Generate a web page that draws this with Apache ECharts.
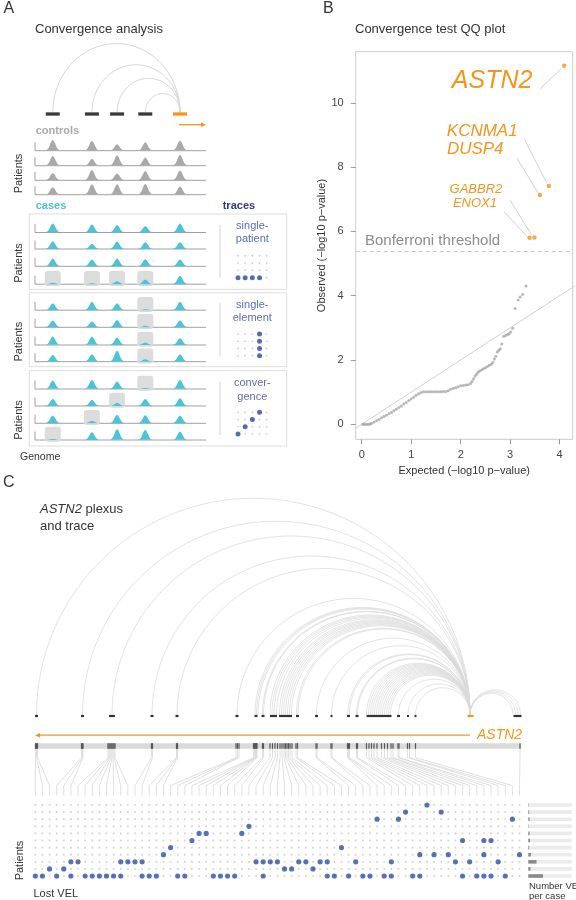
<!DOCTYPE html>
<html>
<head>
<meta charset="utf-8">
<title>Convergence analysis</title>
<script src="https://cdn.jsdelivr.net/npm/echarts@6.0.0/dist/echarts.min.js"></script>
<style>
html,body{margin:0;padding:0;background:#ffffff;}
#chart{width:576px;height:900px;}
</style>
</head>
<body>
<div id="chart"></div>
<script>
// ===================== DATA =====================
// Panel A - schematic (genome position 0-100, peak signal heights)
const elementsA = [10.4, 33.3, 48.0, 64.5, 84.8];
const promoterA = 4;
const controlPeaks = [
  [10.7, 9.7, 6.3, 8.3, 10.0],
  [9.7, 6.7, 10.3, 8.0, 10.7],
  [7.0, 10.3, 6.7, 9.3, 9.7],
  [7.3, 10.3, 10.3, 10.7, 8.0]
];
const casePeaks = [
  [9.0, 8.0, 7.3, 6.3, 9.0],
  [7.7, 5.0, 7.3, 6.7, 6.7],
  [7.7, 6.7, 7.7, 7.0, 6.7],
  [1.5, 1.0, 3.0, 4.5, 8.3],
  [6.7, 8.3, 6.7, 1.0, 8.3],
  [6.7, 5.7, 7.3, 1.5, 6.7],
  [8.3, 8.3, 7.3, 2.5, 6.7],
  [6.7, 7.3, 11.0, 2.5, 7.3],
  [8.3, 9.0, 7.3, 1.0, 9.0],
  [7.0, 6.0, 3.0, 7.0, 7.7],
  [7.7, 2.5, 8.3, 8.0, 7.7],
  [1.0, 7.7, 10.7, 10.0, 8.3]
];
const traceLabels = ['single-\npatient', 'single-\nelement', 'conver-\ngence'];
const traceSinglePatient = [[0,3],[1,3],[2,3],[3,3]];
const traceSingleElement = [[3,0],[3,1],[3,2],[3,3]];
const traceConvergence   = [[3,0],[2,1],[1,2],[0,3]];

// Panel B - convergence test QQ plot
const qqExpected = [0.02,0.05,0.08,0.11,0.14,0.17,0.20,0.25,0.30,0.35,0.40,0.45,0.50,0.55,0.60,0.65,0.70,0.75,0.80,0.85,0.90,0.95,1.00,1.05,1.10,1.15,1.20,1.25,
  1.30,1.35,1.40,1.45,1.50,1.55,1.60,1.65,1.70,1.75,1.80,1.85,1.90,1.95,2.00,2.05,2.10,2.15,2.20,
  2.23,2.26,2.29,2.32,2.35,2.38,2.42,2.46,2.50,2.54,2.58,2.62,2.65,
  2.68,2.71,2.74,2.77,2.80,2.83,2.87,2.91,2.95,2.98,3.01,3.05,3.10,3.16,3.20,3.25,3.32];
const qqObserved = [0,0,0,0,0,0.01,0.03,0.07,0.11,0.15,0.20,0.24,0.28,0.33,0.37,0.42,0.47,0.52,0.57,0.63,0.68,0.74,0.79,0.84,0.90,0.95,0.99,1.01,
  1.01,1.01,1.01,1.01,1.01,1.01,1.01,1.02,1.02,1.04,1.09,1.12,1.14,1.17,1.20,1.21,1.22,1.23,1.27,
  1.33,1.42,1.50,1.56,1.62,1.66,1.69,1.73,1.76,1.80,1.84,1.87,1.92,
  2.03,2.12,2.25,2.30,2.35,2.50,2.74,2.76,2.79,2.82,2.87,2.99,3.60,3.87,3.96,4.04,4.30];
const topGenes    = ['ASTN2', 'KCNMA1', 'DUSP4', 'GABBR2', 'ENOX1'];
const topExpected = [4.09, 3.78, 3.60, 3.49, 3.39];
const topObserved = [11.15, 7.41, 7.13, 5.81, 5.80];
const bonferroni = 5.37;
const qqTicksX = [0, 1, 2, 3, 4];
const qqTicksY = [0, 2, 4, 6, 8, 10];

// Panel C - ASTN2 plexus and trace (genomic positions in kb)
const promoterC = 870;
const promoterDash = [865, 877];
const plexusDashes = [[0,6],[92,98],[148,160],[231,237],[281,287],[401,407],[439,445],[453,459],[470,484],[488,514],
  [522,528],[560,566],[591,595],[624,630],[641,647],[663,713],[724,730],[744,748],[759,763],[957,973]];
const plexusArcs = [3,95,154,234,284, 404,440,443,446,455,457,470,474,478,483,489,493,497,501,505,509,513,523,526,563,593,
  626,629,643,645,663,667,671,675,679,683,687,691,695,699,703,707,711,727,746,761, 956,961,966,971];
const velPos = [1,3,5, 93,95,96, 146,148,150,152,154,156,158,160, 233,235, 283,284,285, 402,405,408, 437,439,441,442,443,444,
  455,457, 470,475,480,485, 490,494,498,501,504,507,510,514, 522,525, 562,564, 592,594, 625,627,629, 643,645,
  663,668,673,678,684,693,699,705,712,716, 726,728, 745,749, 761, 970];
// patients (0 = bottom row) that lost each VEL
const velPatients = [[0],[0],[1],[0],[1],[2,0],[2],[0],[0],[0],[0],[0],[2,0],[2],[2],[2,0],[0],[0],[3],[4],[0],[0],[5],[6],[6],
  [0],[0],[0],[0],[6],[7],[2],[2,0],[2],[2],[1],[1],[2],[2],[1],[2],[2,0],[0],[4],[0],[2],[0],[0],[8],[0],[2,0],[8],[9],[0],
  [3,0],[10],[3],[9],[3],[2],[5,0],[2],[0],[5,3,0],[5,0],[2],[0],[8],[3]];
const patientsC = 11;
const velsPerCaseMax = 100;

// ===================== LAYOUT / STYLE =====================
const FONT = '"Liberation Sans", Arial, Helvetica, sans-serif';
const ORANGE = '#f7941d', CYAN = '#4dc3da', BLUE = '#3050a8', TRACE_BLUE = '#2b3990';
const A_ROW_BASE = [150.7,165.7,180.3,194.7, 232.5,249.0,266.3,284.2, 310.2,327.3,345.0,361.7, 389.0,406.0,423.3,440.0];
const A_DASH_Y = 114, A_ARC_Y = 112.3, A_ARROW_Y = 124.7;
const C_DASH_Y = 0, C_GENE_Y = 0.24, C_BAR_TOP = 0.34, C_BAR_BOT = 0.41, C_BEND1 = 0.52, C_BEND2 = 0.87, C_FAN_END = 0.995;
const QQ_LABELS = [
  {dx:-72,  dy:15,  align:'center', size:25, line:[-24, 23, -3, 3]},
  {dx:-102, dy:-55, align:'left',   size:17, line:[-24, -46, -2, -3]},
  {dx:-93,  dy:-46, align:'left',   size:17, line:[-23, -37, -2, -2.5]},
  {dx:-58.5,dy:-48, align:'center', size:13, line:[-24.5, -37.6, -2.8, -2.6]},
  {dx:-54.5,dy:-34, align:'center', size:13, line:[-25.5, -26, -2.2, -1.2]}
];

function arcPoints(x1, x2, y, ratio, n) {
  const cx = (x1 + x2) / 2, rx = Math.abs(x2 - x1) / 2, ry = rx * ratio, pts = [];
  for (let k = 0; k <= n; k++) {
    const t = Math.PI + Math.PI * k / n;
    pts.push([cx + rx * Math.cos(t), y + ry * Math.sin(t)]);
  }
  return pts;
}
function T(x, y, text, o) {
  o = o || {};
  const font = [o.style || '', o.weight || '', (o.size || 11) + 'px', FONT].join(' ').trim();
  const st = {text: text, font: font, fill: o.color || '#333',
    textAlign: o.align || 'left', align: o.align || 'left',
    textVerticalAlign: 'middle', verticalAlign: 'middle'};
  if (o.lh) st.lineHeight = o.lh;
  return {type:'text', x:x, y:y, rotation:o.rot || 0, silent:true, z:10, style:st};
}

const elemNames = elementsA.map((_, i) => 'E' + (i + 1));
const traceRows = ['P1','P2','P3','P4'];
const velNames = velPos.map((_, i) => 'VEL' + (i + 1));
const patientNames = Array.from({length: patientsC}, (_, i) => 'Patient ' + (i + 1));
const traces = [traceSinglePatient, traceSingleElement, traceConvergence];

// ===================== GRIDS & AXES =====================
const grid = [
  {left:35, top:0, width:171, height:470},
  {left:238, top:255.7, width:28.7, height:22},
  {left:238, top:334, width:28.7, height:21.7},
  {left:238, top:412.3, width:28.7, height:21.7},
  {left:355.7, top:51.7, width:217, height:387.6, show:true, borderColor:'#cccccc', borderWidth:1, backgroundColor:'transparent'},
  {left:35, top:716, width:487.5, height:80},
  {left:35.3, top:805, width:484.2, height:71},
  {left:528.3, top:801.45, width:43.4, height:78.1}
];
const xAxis = [
  {type:'value', gridIndex:0, min:0, max:100, show:false},
  {type:'category', gridIndex:1, data:elemNames, boundaryGap:false, show:false},
  {type:'category', gridIndex:2, data:elemNames, boundaryGap:false, show:false},
  {type:'category', gridIndex:3, data:elemNames, boundaryGap:false, show:false},
  {type:'value', gridIndex:4, min:-0.121, max:4.263,
    axisLine:{show:false, onZero:false}, splitLine:{show:false},
    axisTick:{show:true, customValues:qqTicksX, length:5, lineStyle:{color:'#9a9a9a'}},
    axisLabel:{customValues:qqTicksX, margin:10, color:'#444', fontSize:11, fontFamily:FONT},
    name:'Expected (\u2212log10 p\u2212value)', nameLocation:'middle', nameGap:26,
    nameTextStyle:{color:'#333', fontSize:11, fontFamily:FONT}},
  {type:'value', gridIndex:5, min:0, max:975, show:false},
  {type:'category', gridIndex:6, data:velNames, boundaryGap:false, show:false},
  {type:'value', gridIndex:7, min:0, max:velsPerCaseMax, show:false}
];
const yAxis = [
  {type:'value', gridIndex:0, min:0, max:470, inverse:true, show:false},
  {type:'category', gridIndex:1, data:traceRows, boundaryGap:false, inverse:true, show:false},
  {type:'category', gridIndex:2, data:traceRows, boundaryGap:false, inverse:true, show:false},
  {type:'category', gridIndex:3, data:traceRows, boundaryGap:false, inverse:true, show:false},
  {type:'value', gridIndex:4, min:-0.467, max:11.59,
    axisLine:{show:false, onZero:false}, splitLine:{show:false},
    axisTick:{show:true, customValues:qqTicksY, length:5, lineStyle:{color:'#9a9a9a'}},
    axisLabel:{customValues:qqTicksY, margin:12, color:'#444', fontSize:11, fontFamily:FONT},
    name:'Observed (\u2212log10 p\u2212value)', nameLocation:'middle', nameGap:28,
    nameTextStyle:{color:'#333', fontSize:11, fontFamily:FONT}},
  {type:'value', gridIndex:5, min:0, max:1, inverse:true, show:false},
  {type:'category', gridIndex:6, data:patientNames, boundaryGap:false, show:false},
  {type:'category', gridIndex:7, data:patientNames, show:false}
];

// ===================== SERIES =====================
const series = [];

// ---- Panel A ----
series.push({type:'custom', xAxisIndex:0, yAxisIndex:0, clip:false, silent:true, z:2,
  data: elementsA.map((p, i) => [p, i]).filter(d => d[1] !== promoterA),
  renderItem: function (params, api) {
    const a = api.coord([api.value(0), A_ARC_Y]);
    const b = api.coord([elementsA[promoterA], A_ARC_Y]);
    return {type:'polyline', shape:{points: arcPoints(a[0], b[0], a[1], 1.08, 60)},
      style:{stroke:'#d6d6d6', lineWidth:1, fill:'none'}};
  }});
series.push({type:'custom', xAxisIndex:0, yAxisIndex:0, clip:false, silent:true, z:3,
  data: elementsA.map((p, i) => [p, i]),
  renderItem: function (params, api) {
    const c = api.coord([api.value(0), A_DASH_Y]);
    return {type:'rect', shape:{x:c[0] - 7, y:c[1] - 1.65, width:14, height:3.3},
      style:{fill: api.value(1) === promoterA ? ORANGE : '#3a3a3a'}};
  }});
series.push({type:'custom', xAxisIndex:0, yAxisIndex:0, clip:false, silent:true, z:3,
  data: [[elementsA[promoterA], 100]],
  renderItem: function (params, api) {
    const s = api.coord([api.value(0), A_ARROW_Y]);
    const e = api.coord([api.value(1), A_ARROW_Y]);
    return {type:'group', children:[
      {type:'line', shape:{x1:s[0] - 1, y1:s[1], x2:e[0] - 4, y2:e[1]}, style:{stroke:ORANGE, lineWidth:1.3}},
      {type:'polygon', shape:{points:[[e[0], e[1]], [e[0] - 5, e[1] - 2.2], [e[0] - 5, e[1] + 2.2]]}, style:{fill:ORANGE}}
    ]};
  }});
series.push({type:'custom', xAxisIndex:0, yAxisIndex:0, clip:false, silent:true, z:2,
  data: A_ROW_BASE.map((b, i) => [0, i]),
  renderItem: function (params, api) {
    const base = A_ROW_BASE[api.value(1)];
    const l = api.coord([0, base]), r = api.coord([100, base]);
    return {type:'group', children:[
      {type:'line', shape:{x1:l[0], y1:l[1], x2:r[0], y2:r[1]}, style:{stroke:'#a0a0a0', lineWidth:1}},
      {type:'line', shape:{x1:l[0], y1:l[1], x2:l[0], y2:l[1] - 8.5}, style:{stroke:'#a0a0a0', lineWidth:1}}
    ]};
  }});
series.push({type:'custom', xAxisIndex:0, yAxisIndex:0, clip:false, silent:true, z:3,
  data: traces.flatMap((tr, k) => tr.map(d => [d[0], 4 + 4 * k + d[1]])),
  renderItem: function (params, api) {
    const c = api.coord([elementsA[api.value(0)], A_ROW_BASE[api.value(1)]]);
    return {type:'rect', shape:{x:c[0] - 8, y:c[1] - 13.3, width:16, height:15, r:3},
      style:{fill:'#dcdcdc'}};
  }});
series.push({type:'custom', xAxisIndex:0, yAxisIndex:0, clip:false, silent:true, z:4,
  data: controlPeaks.flatMap((row, r) => row.map((h, e) => [e, r, h]))
    .concat(casePeaks.flatMap((row, r) => row.map((h, e) => [e, r + 4, h]))),
  renderItem: function (params, api) {
    const r = api.value(1);
    const c = api.coord([elementsA[api.value(0)], A_ROW_BASE[r]]);
    const hp = api.size([0, api.value(2)])[1];
    const pts = [];
    for (let dx = -7.5; dx <= 7.501; dx += 0.5) pts.push([c[0] + dx, c[1] - hp * Math.exp(-dx * dx / 13.5)]);
    return {type:'polygon', shape:{points:pts}, style:{fill: r < 4 ? '#a9a9a9' : CYAN}};
  }});
// trace dot grids
traces.forEach((tr, k) => {
  const all = [];
  elemNames.forEach((_, e) => traceRows.forEach((_, p) => all.push([e, p])));
  series.push({type:'scatter', xAxisIndex:k + 1, yAxisIndex:k + 1, silent:true, symbol:'circle', symbolSize:1.7,
    itemStyle:{color:'#bcbcbc'}, data: all, z:3});
  series.push({type:'scatter', xAxisIndex:k + 1, yAxisIndex:k + 1, silent:true, symbol:'circle', symbolSize:5,
    itemStyle:{color:'#2f48a4'}, data: tr, z:4});
});

// ---- Panel B ----
series.push({type:'line', xAxisIndex:4, yAxisIndex:4, silent:true, symbol:'none', z:2,
  lineStyle:{color:'#d0d0d0', width:1}, data:[[-0.5, -0.5], [4.5, 4.5]],
  markLine:{silent:true, symbol:['none', 'none'], label:{show:false},
    lineStyle:{type:[4, 3], color:'#c8c8c8', width:1}, data:[{yAxis: bonferroni}]}});
series.push({type:'scatter', xAxisIndex:4, yAxisIndex:4, silent:true, symbol:'circle', symbolSize:3, z:3,
  itemStyle:{color:'#a7a7a7'}, data: qqExpected.map((x, i) => [x, qqObserved[i]])});
series.push({type:'scatter', xAxisIndex:4, yAxisIndex:4, silent:true, symbol:'circle', symbolSize:4.5, z:4,
  itemStyle:{color:ORANGE}, data: topExpected.map((x, i) => [x, topObserved[i]])});
series.push({type:'custom', xAxisIndex:4, yAxisIndex:4, clip:false, silent:true, z:5,
  data: topExpected.map((x, i) => [x, topObserved[i], i]),
  renderItem: function (params, api) {
    const p = api.coord([api.value(0), api.value(1)]);
    const L = QQ_LABELS[api.value(2)];
    return {type:'group', children:[
      {type:'line', shape:{x1:p[0] + L.line[0], y1:p[1] + L.line[1], x2:p[0] + L.line[2], y2:p[1] + L.line[3]},
        style:{stroke:'#cccccc', lineWidth:0.9}},
      {type:'text', x:p[0] + L.dx, y:p[1] + L.dy, style:{text: topGenes[api.value(2)],
        font:'italic ' + L.size + 'px ' + FONT, fill:ORANGE,
        textAlign:L.align, align:L.align, textVerticalAlign:'middle', verticalAlign:'middle'}}
    ]};
  }});

// ---- Panel C ----
series.push({type:'custom', xAxisIndex:5, yAxisIndex:5, clip:false, silent:true, z:2,
  data: plexusArcs.map(p => [p]),
  renderItem: function (params, api) {
    const a = api.coord([api.value(0), C_DASH_Y]);
    const b = api.coord([promoterC, C_DASH_Y]);
    return {type:'polyline', shape:{points: arcPoints(a[0], b[0], a[1] - 1, 1, 90)},
      style:{stroke:'#d9d9d9', lineWidth:0.75, fill:'none'}};
  }});
series.push({type:'custom', xAxisIndex:5, yAxisIndex:5, clip:false, silent:true, z:3,
  data: plexusDashes.map(d => [d[0], d[1], 0]).concat([[promoterDash[0], promoterDash[1], 1]]),
  renderItem: function (params, api) {
    const s = api.coord([api.value(0), C_DASH_Y]), e = api.coord([api.value(1), C_DASH_Y]);
    return {type:'rect', shape:{x:s[0], y:s[1] - 1.1, width:Math.max(1.5, e[0] - s[0]), height:2.2},
      style:{fill: api.value(2) ? ORANGE : '#333333'}};
  }});
series.push({type:'custom', xAxisIndex:5, yAxisIndex:5, clip:false, silent:true, z:3,
  data: [[promoterC, 0]],
  renderItem: function (params, api) {
    const s = api.coord([api.value(0), C_GENE_Y]), e = api.coord([api.value(1), C_GENE_Y]);
    return {type:'group', children:[
      {type:'line', shape:{x1:s[0], y1:s[1], x2:e[0] + 4, y2:e[1]}, style:{stroke:ORANGE, lineWidth:1.2}},
      {type:'polygon', shape:{points:[[e[0], e[1]], [e[0] + 5, e[1] - 2.2], [e[0] + 5, e[1] + 2.2]]}, style:{fill:ORANGE}},
      {type:'text', x:s[0] + 7, y:s[1], style:{text:'ASTN2', font:'italic 14px ' + FONT, fill:ORANGE,
        textAlign:'left', align:'left', textVerticalAlign:'middle', verticalAlign:'middle'}}
    ]};
  }});
series.push({type:'custom', xAxisIndex:5, yAxisIndex:5, clip:false, silent:true, z:2,
  data: [[0, 972]],
  renderItem: function (params, api) {
    const s = api.coord([api.value(0), C_BAR_TOP]), e = api.coord([api.value(1), C_BAR_BOT]);
    return {type:'rect', shape:{x:s[0], y:s[1], width:e[0] - s[0], height:e[1] - s[1]}, style:{fill:'#dadada'}};
  }});
series.push({type:'custom', xAxisIndex:5, yAxisIndex:5, clip:false, silent:true, z:3,
  data: velPos.map(p => [p]),
  renderItem: function (params, api) {
    const s = api.coord([api.value(0), C_BAR_TOP]), e = api.coord([api.value(0), C_BAR_BOT]);
    return {type:'line', shape:{x1:s[0], y1:s[1], x2:e[0], y2:e[1]}, style:{stroke:'#555555', lineWidth:1.2}};
  }});
series.push({id:'fans', type:'custom', xAxisIndex:5, yAxisIndex:5, clip:false, silent:true, z:2,
  data: [],
  renderItem: function (params, api) {
    const p = api.value(0), cx = api.value(1);
    const top = api.coord([p, C_BAR_BOT]);
    const y1 = api.coord([p, C_BEND1])[1], y2 = api.coord([p, C_BEND2])[1], y3 = api.coord([p, C_FAN_END])[1];
    return {type:'polyline', shape:{points:[[top[0], top[1]], [top[0], y1], [cx, y2], [cx, y3]]},
      style:{stroke:'#d8d8d8', lineWidth:0.8, fill:'none'}};
  }});
// dot matrix
const gridDots = [];
velNames.forEach((_, c) => patientNames.forEach((_, r) => gridDots.push([c, r])));
series.push({type:'scatter', xAxisIndex:6, yAxisIndex:6, silent:true, symbol:'rect', symbolSize:1.7, z:3,
  itemStyle:{color:'#c6c6c6'}, data: gridDots});
series.push({type:'scatter', xAxisIndex:6, yAxisIndex:6, silent:true, symbol:'circle', symbolSize:5.2, z:4,
  itemStyle:{color:BLUE}, data: velPatients.flatMap((rows, c) => rows.map(r => [c, r]))});
const velsPerCase = patientNames.map((_, r) => velPatients.reduce((s, rows) => s + (rows.indexOf(r) >= 0 ? 1 : 0), 0));
series.push({type:'bar', xAxisIndex:7, yAxisIndex:7, silent:true, barWidth:3.6, z:3,
  itemStyle:{color:'#8a8a8a'}, showBackground:true, backgroundStyle:{color:'#ebebeb'}, data: velsPerCase});

// ===================== TEXT / DECORATION =====================
const graphic = [
  T(3.5, 8.5, 'A', {size:16}),
  T(35, 29.5, 'Convergence analysis', {size:13}),
  T(35.7, 131, 'controls', {size:11, weight:'bold', color:'#ababab'}),
  T(19, 173.5, 'Patients', {size:11, rot:Math.PI / 2, align:'center'}),
  T(35.7, 205.8, 'cases', {size:11, weight:'bold', color:CYAN}),
  T(222.7, 205.8, 'traces', {size:11, weight:'bold', color:TRACE_BLUE}),
  {type:'rect', silent:true, z:1, shape:{x:29.3, y:214, width:257.4, height:75.3}, style:{fill:'none', stroke:'#dddddd', lineWidth:1}},
  {type:'rect', silent:true, z:1, shape:{x:29.3, y:292.7, width:257.4, height:74}, style:{fill:'none', stroke:'#dddddd', lineWidth:1}},
  {type:'rect', silent:true, z:1, shape:{x:29.3, y:370.7, width:257.4, height:75.3}, style:{fill:'none', stroke:'#dddddd', lineWidth:1}},
  {type:'line', silent:true, z:1, shape:{x1:220, y1:225, x2:220, y2:277.3}, style:{stroke:'#d0d0d0', lineWidth:1}},
  {type:'line', silent:true, z:1, shape:{x1:220, y1:303.3, x2:220, y2:355.7}, style:{stroke:'#d0d0d0', lineWidth:1}},
  {type:'line', silent:true, z:1, shape:{x1:220, y1:381.7, x2:220, y2:435}, style:{stroke:'#d0d0d0', lineWidth:1}},
  T(252.3, 232.7, traceLabels[0], {size:11, color:'#5b6cc0', align:'center', lh:13.3}),
  T(252.3, 311.3, traceLabels[1], {size:11, color:'#5b6cc0', align:'center', lh:13.3}),
  T(252.3, 390, traceLabels[2], {size:11, color:'#5b6cc0', align:'center', lh:13.3}),
  T(19, 263, 'Patients', {size:11, rot:Math.PI / 2, align:'center'}),
  T(19, 341.7, 'Patients', {size:11, rot:Math.PI / 2, align:'center'}),
  T(19, 420, 'Patients', {size:11, rot:Math.PI / 2, align:'center'}),
  T(20, 457, 'Genome', {size:10.5}),
  T(323, 8.5, 'B', {size:16}),
  T(355, 29, 'Convergence test QQ plot', {size:13}),
  T(365, 240.5, 'Bonferroni threshold', {size:15, color:'#8c8c8c'}),
  T(3, 483, 'C', {size:16}),
  T(20, 860.5, 'Patients', {size:11, rot:Math.PI / 2, align:'center'}),
  T(33.5, 894, 'Lost VEL', {size:11}),
  T(529, 891.4, 'Number VELs\nper case', {size:9.5, lh:9.4})
];

const option = {
  backgroundColor:'#ffffff',
  animation:false,
  textStyle:{fontFamily:FONT},
  title:[{text:'{i|ASTN2} plexus\nand trace', left:40, top:500.2, padding:0,
    textStyle:{fontSize:13, fontWeight:'normal', color:'#333', fontFamily:FONT, lineHeight:17.5,
      rich:{i:{fontStyle:'italic', fontSize:13, color:'#333', fontFamily:FONT, lineHeight:17.5}}}}],
  grid: grid, xAxis: xAxis, yAxis: yAxis, series: series, graphic: graphic
};

const chart = echarts.init(document.getElementById('chart'), null, {renderer:'canvas'});
chart.setOption(option);
// connect each VEL on the genome to its column in the trace matrix using the library's own scales
const colPx = velNames.map((_, i) => chart.convertToPixel({xAxisIndex:6}, i));
chart.setOption({series:[{id:'fans', data: velPos.map((p, i) => [p, colPx[i]])}]});
</script>
</body>
</html>
